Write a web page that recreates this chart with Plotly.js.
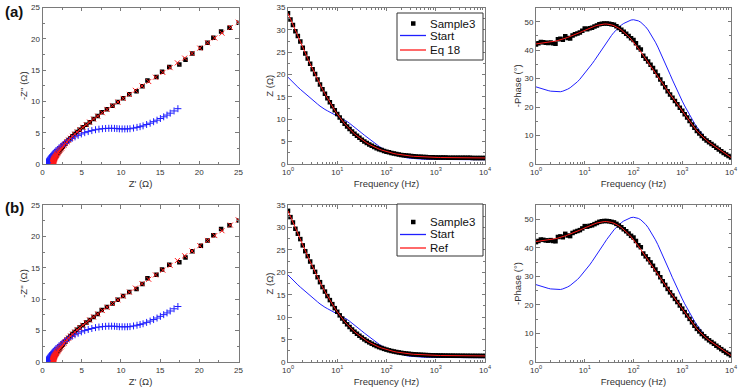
<!DOCTYPE html>
<html>
<head>
<meta charset="utf-8">
<script src="https://cdn.plot.ly/plotly-3.0.1.min.js"></script>
<style>
  html, body { margin: 0; padding: 0; background: #fff; }
  #chart { width: 740px; height: 388px; }
</style>
</head>
<body>
<div id="chart"></div>
<script>
// Measurement frequencies (Hz), 20 points per decade
const freq = [1, 1.122, 1.259, 1.413, 1.585, 1.778, 1.995, 2.239, 2.512, 2.818,
  3.162, 3.548, 3.981, 4.467, 5.012, 5.623, 6.310, 7.079, 7.943, 8.913,
  10, 11.22, 12.59, 14.13, 15.85, 17.78, 19.95, 22.39, 25.12, 28.18,
  31.62, 35.48, 39.81, 44.67, 50.12, 56.23, 63.10, 70.79, 79.43, 89.13,
  100, 112.2, 125.9, 141.3, 158.5, 177.8, 199.5, 223.9, 251.2, 281.8,
  316.2, 354.8, 398.1, 446.7, 501.2, 562.3, 631.0, 707.9, 794.3, 891.3,
  1000, 1122, 1259, 1413, 1585, 1778, 1995, 2239, 2512, 2818,
  3162, 3548, 3981, 4467, 5012, 5623, 6310, 7079, 7943, 8913, 10000];

// Sample3: measured |Z| (ohm) and -phase (deg)
const sampleZ = [33.7, 32.3, 31.1, 29.7, 28.6, 27.4, 26.0, 24.7, 23.6, 22.4,
  21.2, 20.1, 18.9, 17.8, 16.7, 15.7, 14.7, 13.8, 12.9, 12.0,
  11.2, 10.4, 9.7, 9.0, 8.4, 7.8, 7.25, 6.75, 6.3, 5.85,
  5.45, 5.05, 4.7, 4.38, 4.08, 3.8, 3.55, 3.32, 3.12, 2.93,
  2.76, 2.6, 2.46, 2.34, 2.23, 2.13, 2.04, 1.96, 1.89, 1.83,
  1.77, 1.72, 1.68, 1.64, 1.61, 1.58, 1.55, 1.53, 1.51, 1.49,
  1.47, 1.46, 1.45, 1.44, 1.43, 1.42, 1.415, 1.41, 1.40, 1.395,
  1.39, 1.385, 1.38, 1.375, 1.37, 1.367, 1.364, 1.361, 1.358, 1.355, 1.352];
const samplePhase = [42.0, 42.4, 42.9, 42.8, 42.6, 42.5, 42.7, 42.4, 42.3, 43.8,
  44.0, 43.7, 44.9, 44.3, 44.1, 45.2, 45.6, 45.9, 46.2, 46.8,
  47.6, 47.4, 47.7, 47.9, 48.3, 48.7, 49.1, 49.3, 49.4, 49.4,
  49.3, 49.1, 48.9, 48.4, 47.8, 47.2, 46.5, 45.8, 45.0, 44.2,
  43.6, 42.4, 40.9, 40.2, 38.0, 37.0, 36.0, 34.9, 33.7, 32.4,
  31.1, 29.7, 28.3, 27.0, 25.6, 24.4, 23.3, 22.1, 21.0, 19.8,
  18.7, 17.5, 16.3, 15.1, 13.9, 12.7, 11.6, 10.7, 9.8, 9.0,
  8.3, 7.6, 7.0, 6.4, 5.7, 5.1, 4.5, 3.9, 3.3, 2.8, 2.3];

// Fitted model (Eq 18 / Ref)
const fitZ = [33.7, 32.4, 31.0, 29.8, 28.6, 27.3, 26.0, 24.8, 23.6, 22.4,
  21.2, 20.0, 18.9, 17.8, 16.7, 15.7, 14.7, 13.8, 12.9, 12.0,
  11.2, 10.4, 9.7, 9.0, 8.4, 7.8, 7.25, 6.75, 6.3, 5.85,
  5.45, 5.05, 4.7, 4.38, 4.08, 3.8, 3.55, 3.32, 3.12, 2.93,
  2.76, 2.6, 2.46, 2.34, 2.23, 2.13, 2.04, 1.96, 1.89, 1.83,
  1.77, 1.72, 1.68, 1.64, 1.61, 1.58, 1.55, 1.53, 1.51, 1.49,
  1.47, 1.46, 1.45, 1.44, 1.43, 1.42, 1.415, 1.41, 1.40, 1.395,
  1.39, 1.385, 1.38, 1.375, 1.37, 1.367, 1.364, 1.361, 1.358, 1.355, 1.352];
const fitPhase = [42.2, 42.3, 42.4, 42.5, 42.6, 42.7, 42.8, 43.0, 43.2, 43.4,
  43.6, 43.9, 44.2, 44.5, 44.8, 45.1, 45.5, 45.8, 46.2, 46.6,
  47.0, 47.4, 47.8, 48.1, 48.4, 48.7, 48.9, 49.1, 49.2, 49.2,
  49.1, 48.9, 48.6, 48.2, 47.7, 47.1, 46.4, 45.6, 44.8, 43.9,
  42.9, 41.8, 40.6, 39.4, 38.2, 37.0, 35.8, 34.6, 33.4, 32.1,
  30.9, 29.6, 28.3, 27.0, 25.7, 24.5, 23.3, 22.1, 20.9, 19.8,
  18.7, 17.5, 16.3, 15.1, 13.9, 12.7, 11.6, 10.7, 9.8, 9.0,
  8.3, 7.6, 7.0, 6.4, 5.7, 5.1, 4.5, 3.9, 3.3, 2.8, 2.3];

// Starting-guess model
const startZ = [19.4, 18.8, 18.2, 17.7, 17.2, 16.7, 16.2, 15.7, 15.2, 14.7,
  14.2, 13.8, 13.4, 12.95, 12.5, 12.2, 11.9, 11.6, 11.3, 11.05,
  10.8, 10.5, 10.2, 9.85, 9.5, 9.1, 8.7, 8.25, 7.8, 7.35,
  6.9, 6.45, 6.0, 5.55, 5.1, 4.7, 4.3, 3.95, 3.6, 3.3,
  3.0, 2.72, 2.46, 2.22, 2.0, 1.82, 1.66, 1.52, 1.41, 1.32,
  1.25, 1.19, 1.15, 1.11, 1.08, 1.06, 1.045, 1.03, 1.02, 1.01,
  1.005, 1.0, 0.995, 0.99, 0.99, 0.985, 0.985, 0.98, 0.98, 0.98,
  0.975, 0.975, 0.975, 0.97, 0.97, 0.97, 0.97, 0.97, 0.965, 0.965, 0.965];
const startPhase = [27.1, 26.8, 26.5, 26.2, 26.0, 25.8, 25.6, 25.5, 25.4, 25.4,
  25.4, 25.6, 25.9, 26.3, 26.8, 27.4, 28.1, 28.9, 29.8, 30.8,
  31.8, 32.9, 34.0, 35.2, 36.4, 37.7, 39.0, 40.3, 41.6, 42.9,
  44.1, 45.2, 46.3, 47.2, 48.1, 48.8, 49.4, 49.9, 50.3, 50.6,
  50.7, 50.6, 50.3, 49.8, 49.1, 48.2, 47.1, 45.8, 44.4, 42.8,
  41.1, 39.3, 37.4, 35.5, 33.5, 31.5, 29.5, 27.5, 25.6, 23.8,
  22.1, 20.4, 18.8, 17.2, 15.7, 14.3, 13.0, 11.8, 10.7, 9.7,
  8.8, 7.9, 7.1, 6.4, 5.7, 5.1, 4.6, 4.1, 3.6, 3.2, 2.8];

const logTickVals = [1, 10, 100, 1000, 10000];
const logTickText = ['10<sup>0</sup>', '10<sup>1</sup>', '10<sup>2</sup>', '10<sup>3</sup>', '10<sup>4</sup>'];
const panelLabels = ['(a)', '(b)'];
const legendNames = [['Sample3', 'Start', 'Eq 18'], ['Sample3', 'Start', 'Ref']];

// Nyquist coordinates from modulus and phase
const re = (z, p) => z.map((v, i) => v * Math.cos(p[i] * Math.PI / 180));
const im = (z, p) => z.map((v, i) => v * Math.sin(p[i] * Math.PI / 180));

const BLUE = '#1f1fff';
const RED = '#ff1a1a';
const AX = '#7a7a7a';
const FONT = 'Liberation Sans, Arial, sans-serif';
const W = 740, H = 388;
const px = (v) => v / W;          // paper x from pixel
const py = (v) => 1 - v / H;      // paper y from pixel (top-down)

const traces = [];
const layout = {
  width: W, height: H,
  margin: {l: 0, r: 0, t: 0, b: 0},
  paper_bgcolor: '#fff', plot_bgcolor: '#fff',
  font: {family: FONT, size: 8, color: '#333'},
  showlegend: false,
  annotations: [],
  shapes: []
};

const colX = [[px(42.5), px(238.5)], [px(288), px(485)], [px(536), px(731)]];
const rowY = [[py(164), py(7.5)], [py(362), py(205)]];

const titleFont = {family: FONT, size: 9.5, color: '#333'};
function axisBase(extra) {
  return Object.assign({
    showline: true, linecolor: AX, linewidth: 1, mirror: 'ticks',
    ticks: 'inside', ticklen: 3.5, tickcolor: AX, tickwidth: 1,
    showgrid: false, zeroline: false,
    tickfont: {family: FONT, size: 8, color: '#333'}
  }, extra);
}

const minorLog = [];
for (let d = 0; d < 4; d++) for (let m = 2; m < 10; m++) minorLog.push(m * Math.pow(10, d));

// Legend box geometry (pixels) for each row: top, bottom, item centres
const legendGeom = [
  {top: 13, bottom: 60, rows: [23.5, 35.5, 50]},
  {top: 204, bottom: 256, rows: [222, 234.5, 248]}
];

for (let r = 0; r < 2; r++) {
  const n = r * 3;
  const xs = (c) => (n + c === 0 ? 'x' : 'x' + (n + c + 1));
  const ys = (c) => (n + c === 0 ? 'y' : 'y' + (n + c + 1));
  const key = (c, k) => (n + c === 0 ? k : k + (n + c + 1));

  // Nyquist plot
  traces.push({x: re(sampleZ, samplePhase), y: im(sampleZ, samplePhase), xaxis: xs(0), yaxis: ys(0),
    mode: 'markers', marker: {symbol: 'square', size: 4.5, color: '#000'}});
  traces.push({x: re(startZ, startPhase), y: im(startZ, startPhase), xaxis: xs(0), yaxis: ys(0),
    mode: 'markers', marker: {symbol: 'cross-thin-open', size: 5, color: BLUE, line: {color: BLUE, width: 1}}});
  traces.push({x: re(fitZ, fitPhase), y: im(fitZ, fitPhase), xaxis: xs(0), yaxis: ys(0),
    mode: 'markers', marker: {symbol: 'x-thin-open', size: 5, color: RED, line: {color: RED, width: 1}}});

  // |Z| vs frequency
  traces.push({x: freq, y: startZ, xaxis: xs(1), yaxis: ys(1), name: legendNames[r][1],
    mode: 'lines', line: {color: BLUE, width: 1}});
  traces.push({x: freq, y: sampleZ, xaxis: xs(1), yaxis: ys(1), name: legendNames[r][0],
    mode: 'markers', marker: {symbol: 'square', size: 4.5, color: '#000'}});
  traces.push({x: freq, y: fitZ, xaxis: xs(1), yaxis: ys(1), name: legendNames[r][2],
    mode: 'lines', line: {color: RED, width: 1}});

  // -Phase vs frequency
  traces.push({x: freq, y: startPhase, xaxis: xs(2), yaxis: ys(2),
    mode: 'lines', line: {color: BLUE, width: 1}});
  traces.push({x: freq, y: samplePhase, xaxis: xs(2), yaxis: ys(2),
    mode: 'markers', marker: {symbol: 'square', size: 4.5, color: '#000'}});
  traces.push({x: freq, y: fitPhase, xaxis: xs(2), yaxis: ys(2),
    mode: 'lines', line: {color: RED, width: 1}});

  layout[key(0, 'xaxis')] = axisBase({range: [0, 25], dtick: 5, domain: colX[0], anchor: ys(0),
    minor: {ticks: 'inside', ticklen: 2, tickcolor: AX, dtick: 2.5},
    title: {text: "Z' (Ω)", font: titleFont, standoff: 4}});
  layout[key(0, 'yaxis')] = axisBase({range: [0, 25], dtick: 5, domain: rowY[r], anchor: xs(0),
    minor: {ticks: 'inside', ticklen: 2, tickcolor: AX, dtick: 2.5},
    title: {text: "-Z'' (Ω)", font: titleFont, standoff: 1}});

  layout[key(1, 'xaxis')] = axisBase({type: 'log', range: [0, 4], domain: colX[1], anchor: ys(1),
    tickvals: logTickVals, ticktext: logTickText,
    minor: {ticks: 'inside', ticklen: 2, tickcolor: AX, tickvals: minorLog},
    title: {text: 'Frequency (Hz)', font: titleFont, standoff: 4}});
  layout[key(1, 'yaxis')] = axisBase({range: [0, 35], dtick: 5, domain: rowY[r], anchor: xs(1),
    minor: {ticks: 'inside', ticklen: 2, tickcolor: AX, dtick: 2.5},
    title: {text: 'Z (Ω)', font: titleFont, standoff: 1}});

  layout[key(2, 'xaxis')] = axisBase({type: 'log', range: [0, 4], domain: colX[2], anchor: ys(2),
    tickvals: logTickVals, ticktext: logTickText,
    minor: {ticks: 'inside', ticklen: 2, tickcolor: AX, tickvals: minorLog},
    title: {text: 'Frequency (Hz)', font: titleFont, standoff: 4}});
  layout[key(2, 'yaxis')] = axisBase({range: [0, 55], dtick: 10, domain: rowY[r], anchor: xs(2),
    minor: {ticks: 'inside', ticklen: 2, tickcolor: AX, dtick: 5},
    title: {text: '-Phase (°)', font: titleFont, standoff: 1}});

  // Legend for the |Z| panel
  const g = legendGeom[r];
  layout.shapes.push({type: 'rect', xref: 'paper', yref: 'paper',
    x0: px(397), x1: px(483), y0: py(g.bottom), y1: py(g.top),
    line: {color: '#333', width: 1}, fillcolor: '#fff', layer: 'above'});
  layout.shapes.push({type: 'rect', xref: 'paper', yref: 'paper',
    x0: px(411), x1: px(415.5), y0: py(g.rows[0] + 2.25), y1: py(g.rows[0] - 2.25),
    line: {width: 0}, fillcolor: '#000', layer: 'above'});
  layout.shapes.push({type: 'line', xref: 'paper', yref: 'paper',
    x0: px(400), x1: px(426), y0: py(g.rows[1]), y1: py(g.rows[1]),
    line: {color: BLUE, width: 1.3}, layer: 'above'});
  layout.shapes.push({type: 'line', xref: 'paper', yref: 'paper',
    x0: px(400), x1: px(426), y0: py(g.rows[2]), y1: py(g.rows[2]),
    line: {color: RED, width: 1.3}, layer: 'above'});
  legendNames[r].forEach((name, i) => {
    layout.annotations.push({text: name, xref: 'paper', yref: 'paper',
      x: px(428), y: py(g.rows[i]), xanchor: 'left', yanchor: 'middle',
      showarrow: false, font: {family: FONT, size: 11.5, color: '#111'}});
  });

  layout.annotations.push({
    text: '<b>' + panelLabels[r] + '</b>', xref: 'paper', yref: 'paper',
    x: px(3), y: py(r === 0 ? 11 : 207), xanchor: 'left', yanchor: 'middle',
    showarrow: false, font: {family: FONT, size: 15, color: '#111'}
  });
}

Plotly.newPlot('chart', traces, layout, {staticPlot: true, displayModeBar: false});
</script>
</body>
</html>
